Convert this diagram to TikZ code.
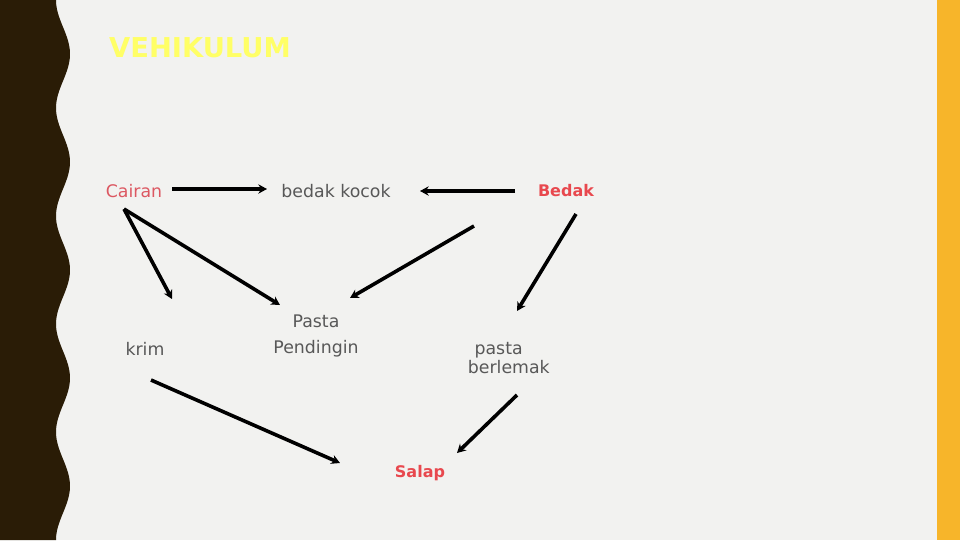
\documentclass[tikz,border=0pt]{standalone}
\usepackage{fontspec}
\setmainfont{DejaVu Sans}
\usepackage{tikz}
\usetikzlibrary{arrows.meta, positioning}
\definecolor{slidebg}{RGB}{242,242,240}
\definecolor{darkbrown}{RGB}{42,28,6}
\definecolor{myorange}{RGB}{247,181,42}
\definecolor{titleyellow}{RGB}{255,255,102}
\definecolor{txtgray}{RGB}{88,88,88}
\definecolor{softred}{RGB}{220,88,98}
\definecolor{myred}{RGB}{232,72,78}
\tikzset{
  lbl/.style={text=txtgray, font=\fontsize{13}{15}\selectfont, inner sep=2pt},
  lblR/.style={text=myred, font=\fontsize{12}{14}\selectfont\bfseries, inner sep=2pt},
  arr/.style={-{Stealth[length=6.5pt, width=7pt]}, line width=2.7pt, black},
}
\begin{document}
\begin{tikzpicture}[x=0.75pt, y=-0.75pt]
      \useasboundingbox (0,0) rectangle (960,540);
      \fill[slidebg] (0,0) rectangle (960,540);
      % wavy left band and right strip
      \fill[darkbrown] (0,0) -- plot[domain=0:540, samples=120, smooth]
            ({63-7*cos(\x/108*360)}, \x) -- (0,540) -- cycle;
      \fill[myorange] (937,0) rectangle (960,540);
      \node[text=titleyellow, font=\fontsize{20.5}{24}\selectfont\bfseries] (title) at (200,48){VEHIKULUM};
      % labels
      \node[lbl, text=softred] (cair) at (134,191){Cairan};
      \node[lbl] (bk)   at (336,191){bedak kocok};
      \node[lblR] (bdk) at (566,191){Bedak};
      \node[lbl] (krim) at (145,349){krim};
      \node[lbl, align=center, font=\fontsize{13}{19}\selectfont] (pp) at (316,336){Pasta\\Pendingin};
      \node[lbl, align=left, anchor=west, font=\fontsize{13}{14.5}\selectfont] (pb) at (465,358){\hspace*{5pt}pasta\\berlemak};
      \node[lblR] (slp) at (420,473){Salap};
      % arrow ends
      \coordinate (c1) at (172,189);  \coordinate (c2) at (267,189);
      \coordinate (c3) at (515,191);  \coordinate (c4) at (420,191);
      \coordinate (c5) at (124,209);  \coordinate (c6) at (172,299);
      \coordinate (c7) at (280,305);
      \coordinate (c8) at (474,226);  \coordinate (c9) at (350,298);
      \coordinate (c10) at (576,214); \coordinate (c11) at (517,311);
      \coordinate (c12) at (151,380); \coordinate (c13) at (340,463);
      \coordinate (c14) at (517,395); \coordinate (c15) at (457,453);
      \draw[arr] (c1) -- (c2);
      \draw[arr] (c3) -- (c4);
      \draw[arr] (c5) -- (c6);
      \draw[arr] (c5) -- (c7);
      \draw[arr] (c8) -- (c9);
      \draw[arr] (c10) -- (c11);
      \draw[arr] (c12) -- (c13);
      \draw[arr] (c14) -- (c15);
    \end{tikzpicture}
\end{document}
